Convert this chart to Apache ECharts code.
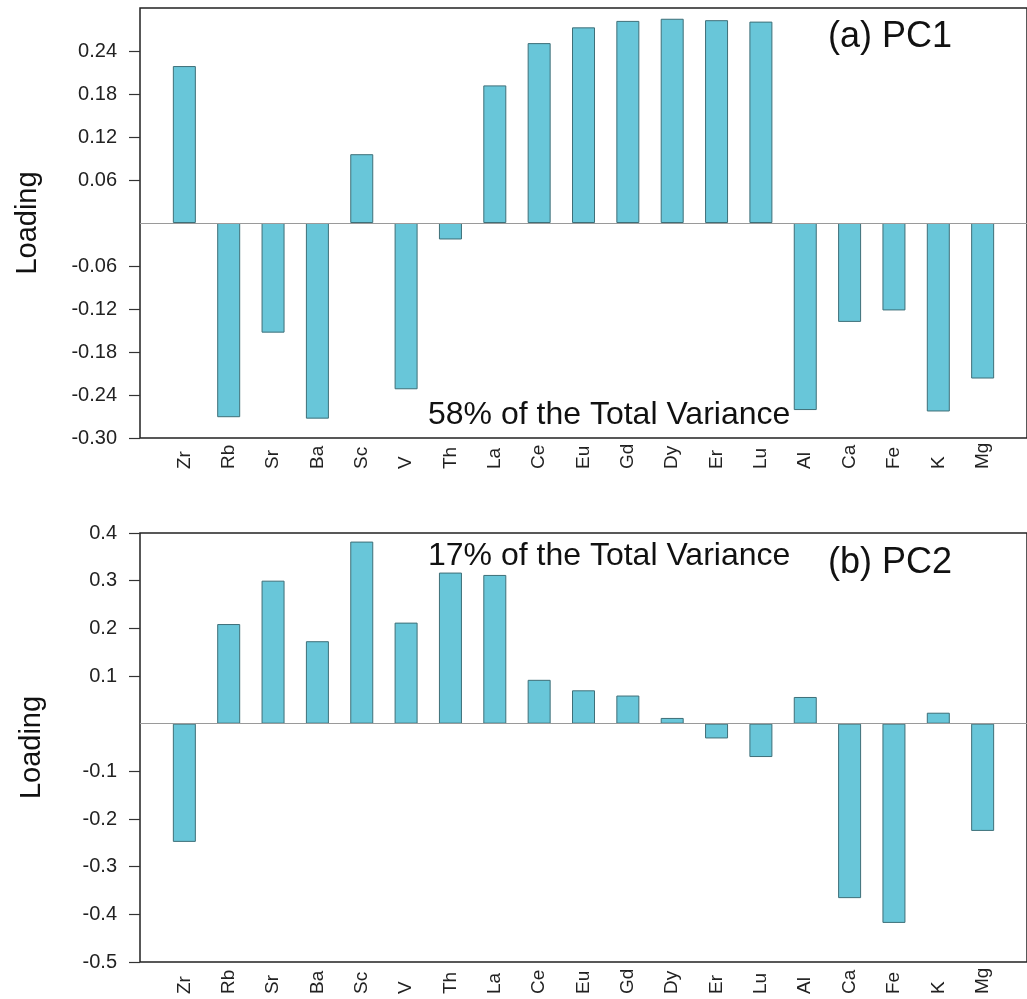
<!DOCTYPE html>
<html>
<head>
<meta charset="utf-8">
<script src="https://cdn.jsdelivr.net/npm/echarts@6/dist/echarts.min.js"></script>
<style>
html,body{margin:0;padding:0;background:#fff;}
#chart{width:1027px;height:999px;}
</style>
</head>
<body>
<div id="chart"></div>
<script>
const categories = ['Zr','Rb','Sr','Ba','Sc','V','Th','La','Ce','Eu','Gd','Dy','Er','Lu','Al','Ca','Fe','K','Mg'];
const pc1 = [0.219,-0.271,-0.153,-0.273,0.096,-0.232,-0.023,0.192,0.251,0.273,0.282,0.285,0.283,0.281,-0.261,-0.138,-0.122,-0.263,-0.217];
const pc2 = [-0.248,0.209,0.300,0.173,0.382,0.212,0.317,0.312,0.092,0.070,0.059,0.012,-0.031,-0.070,0.056,-0.366,-0.418,0.023,-0.225];
const pc1Ticks = [-0.30,-0.24,-0.18,-0.12,-0.06,0.06,0.12,0.18,0.24];
const pc2Ticks = [-0.5,-0.4,-0.3,-0.2,-0.1,0.1,0.2,0.3,0.4];
const titles = ['(a) PC1','(b) PC2'];
const varianceText = ['58% of the Total Variance','17% of the Total Variance'];

const FONT = '"Liberation Sans", Arial, sans-serif';
const catIdx = categories.map((c,i)=>i);

function xAxisFor(gi){
  return {
    type:'value', gridIndex:gi, min:-1, max:19,
    axisLine:{show:false, onZero:false}, axisTick:{show:false}, splitLine:{show:false},
    axisLabel:{
      customValues: catIdx,
      formatter:(v)=>categories[v] || '',
      rotate:90, align:'left', verticalAlign:'middle',
      margin: gi===0 ? 31 : 32,
      fontFamily:FONT, fontSize:19, color:'#222'
    }
  };
}
function yAxisFor(gi,min,max,interval,ticks,dec,gap){
  return {
    type:'value', gridIndex:gi, min:min, max:max, interval:interval,
    position:'left',
    name:'Loading', nameLocation:'middle', nameGap:gap, nameRotate:90,
    nameTextStyle:{fontFamily:FONT, fontSize:29, color:'#111'},
    axisLine:{show:false, onZero:false}, splitLine:{show:false},
    axisTick:{show:true, inside:false, length:11, customValues:ticks, lineStyle:{color:'#333', width:1.2}},
    axisLabel:{customValues:ticks, formatter:(v)=>v.toFixed(dec), margin:23, fontFamily:FONT, fontSize:20, color:'#222'}
  };
}
function barSeries(gi, vals){
  return {
    type:'bar', xAxisIndex:gi, yAxisIndex:gi,
    data: vals.map((v,i)=>[i,v]),
    barWidth:23,
    itemStyle:{color:'#68C6D9', borderColor:'#3E6F78', borderWidth:1},
    markLine:{
      silent:true, symbol:['none','none'], label:{show:false},
      lineStyle:{color:'#9a9a9a', width:1.2, type:'solid'},
      data:[{yAxis:0}], animation:false
    }
  };
}

const chart = echarts.init(document.getElementById('chart'), null, {renderer:'canvas'});
chart.setOption({
  animation:false,
  backgroundColor:'#fff',
  grid:[
    {left:140, top:8, width:896, height:430, show:true, borderColor:'#222', borderWidth:1.5, backgroundColor:'transparent'},
    {left:140, top:533, width:896, height:429, show:true, borderColor:'#222', borderWidth:1.5, backgroundColor:'transparent'}
  ],
  xAxis:[xAxisFor(0), xAxisFor(1)],
  yAxis:[
    yAxisFor(0,-0.30,0.30,0.06,pc1Ticks,2,98),
    yAxisFor(1,-0.5,0.4,0.1,pc2Ticks,1,94)
  ],
  graphic:[
    {type:'text', left:828, top:19, style:{text:titles[0], font:'36px '+FONT, fill:'#111'}},
    {type:'text', left:428, top:399, style:{text:varianceText[0], font:'32px '+FONT, fill:'#111'}},
    {type:'text', left:428, top:540, style:{text:varianceText[1], font:'32px '+FONT, fill:'#111'}},
    {type:'text', left:828, top:545, style:{text:titles[1], font:'36px '+FONT, fill:'#111'}}
  ],
  series:[barSeries(0,pc1), barSeries(1,pc2)]
});
</script>
</body>
</html>
